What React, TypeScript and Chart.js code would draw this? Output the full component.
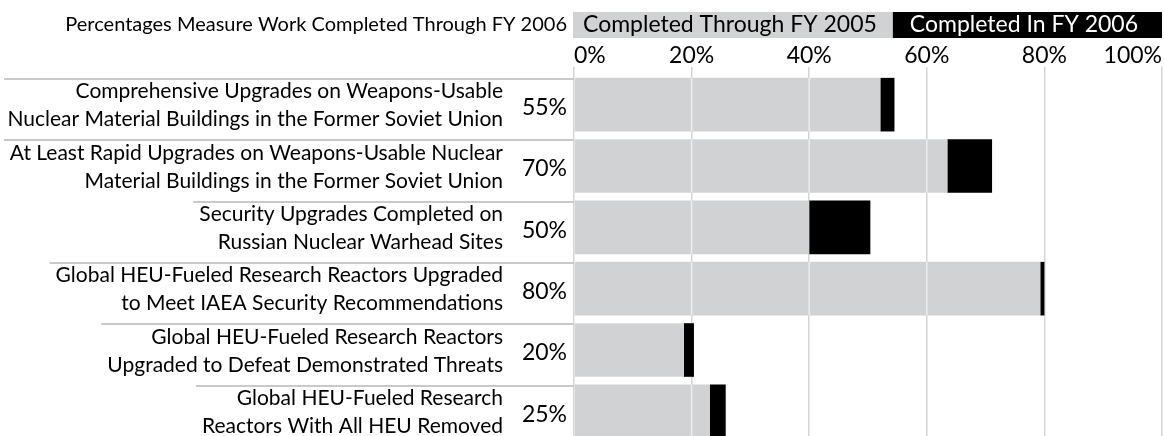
import React, { useEffect, useRef } from "react";
import { Chart, registerables } from "chart.js";

Chart.register(...registerables);

// ---------- data ----------
const categories: string[][] = [
  ["Comprehensive Upgrades on Weapons-Usable", "Nuclear Material Buildings in the Former Soviet Union"],
  ["At Least Rapid Upgrades on Weapons-Usable Nuclear", "Material Buildings in the Former Soviet Union"],
  ["Security Upgrades Completed on", "Russian Nuclear Warhead Sites"],
  ["Global HEU-Fueled Research Reactors Upgraded", "to Meet IAEA Security Recommendations"],
  ["Global HEU-Fueled Research Reactors", "Upgraded to Defeat Demonstrated Threats"],
  ["Global HEU-Fueled Research", "Reactors With All HEU Removed"],
];
const totalLabels = ["55%", "70%", "50%", "80%", "20%", "25%"];
const through2005 = [52.1, 63.5, 40, 79.3, 18.7, 23.1];
const in2006 = [2.4, 7.6, 10.4, 0.7, 1.7, 2.7];
const xTicks = [0, 20, 40, 60, 80, 100];
const seriesNames = ["Completed Through FY 2005", "Completed In FY 2006"];
const titleText = "Percentages Measure Work Completed Through FY 2006";

const FAMILY = "Lato";
const TITLE_FS = 20;
const LABEL_FS = 21;
const BIG_FS = 23;
const GRAY = "#d1d2d4";
const BLACK = "#000000";

const decorPlugin = {
  id: "decor",
  afterDatasetsDraw(chart: any) {
    const ctx = chart.ctx;
    const meta = chart.getDatasetMeta(0);
    const xs = chart.scales.x;
    ctx.save();
    ctx.strokeStyle = "#ededed";
    ctx.lineWidth = 1.5;
    meta.data.forEach((bar: any) => {
      const left = Math.min(bar.base, bar.x);
      const right = Math.max(bar.base, bar.x);
      xTicks.forEach((t) => {
        const px = xs.getPixelForValue(t);
        if (px > left + 1 && px < right - 1) {
          ctx.beginPath();
          ctx.moveTo(px, bar.y - bar.height / 2);
          ctx.lineTo(px, bar.y + bar.height / 2);
          ctx.stroke();
        }
      });
    });
    ctx.restore();
  },
  afterDraw(chart: any) {
    const ctx = chart.ctx;
    const area = chart.chartArea;
    const ys = chart.scales.y;
    const bars = chart.getDatasetMeta(0).data;
    ctx.save();
    ctx.textBaseline = "middle";

    // separators from each label's left edge to the axis, at each bar's top
    ctx.font = `${LABEL_FS}px ${FAMILY}`;
    const labelRight = ys.right - 12;
    ctx.strokeStyle = "#c9c9c9";
    ctx.lineWidth = 2;
    categories.forEach((lines, i) => {
      const w = Math.max(...lines.map((l) => ctx.measureText(l).width));
      const bar = bars[i];
      const yTop = Math.round(bar.y - bar.height / 2) + 1;
      ctx.beginPath();
      ctx.moveTo(Math.max(4, labelRight - w - 6), yTop);
      ctx.lineTo(area.left, yTop);
      ctx.stroke();
    });

    // title
    const ty = 25;
    ctx.font = `${TITLE_FS}px ${FAMILY}`;
    ctx.fillStyle = "#000";
    ctx.textAlign = "right";
    ctx.fillText(titleText, area.left - 7, ty);

    // legend boxes
    ctx.font = `${BIG_FS}px ${FAMILY}`;
    const colors = [GRAY, BLACK];
    const textColors = ["#000", "#fff"];
    let x = area.left - 1;
    const boxTop = 12;
    const boxH = 26;
    ctx.textAlign = "left";
    seriesNames.forEach((name, i) => {
      const w = ctx.measureText(name).width;
      const padL = i === 0 ? 10 : 17;
      const padR = 16;
      const bw = i === 0 ? w + padL + padR : area.right - x;
      ctx.fillStyle = colors[i];
      ctx.fillRect(x, boxTop, bw, boxH);
      ctx.fillStyle = textColors[i];
      ctx.fillText(name, x + padL, ty);
      x += bw;
    });
    ctx.restore();
  },
};

export default function App() {
  const ref = useRef<HTMLCanvasElement | null>(null);

  useEffect(() => {
    let chart: Chart | null = null;
    let cancelled = false;
    const make = () => {
      if (cancelled || !ref.current) return;
      chart = new Chart(ref.current, {
        type: "bar",
        data: {
          labels: categories as any,
          datasets: [
            {
              label: seriesNames[0],
              data: through2005,
              backgroundColor: GRAY,
              barPercentage: 0.874,
              categoryPercentage: 1,
              yAxisID: "y",
            },
            {
              label: seriesNames[1],
              data: in2006,
              backgroundColor: BLACK,
              barPercentage: 0.874,
              categoryPercentage: 1,
              yAxisID: "y",
            },
          ],
        },
        options: {
          indexAxis: "y",
          animation: false,
          responsive: false,
          maintainAspectRatio: false,
          layout: { padding: { top: 36, right: 2, bottom: 0, left: 0 } },
          plugins: { legend: { display: false }, tooltip: { enabled: false } },
          scales: {
            x: {
              type: "linear",
              position: "top",
              stacked: true,
              min: 0,
              max: 100,
              afterBuildTicks: (s: any) => {
                s.ticks = xTicks.map((v) => ({ value: v }));
              },
              afterFit: (s: any) => {
                s.height = 38;
                s.paddingLeft = 0;
                s.paddingRight = 0;
              },
              ticks: {
                align: "inner",
                padding: 0,
                color: "#000",
                font: { family: FAMILY, size: BIG_FS, lineHeight: 1 },
                callback: (v: any) => `${v}%`,
              },
              grid: { color: "#d5d5d5", lineWidth: 1.5, tickLength: 7, drawTicks: true },
              border: { display: false },
            },
            y: {
              type: "category",
              position: "left",
              stacked: true,
              weight: 2,
              offset: true,
              afterFit: (s: any) => {
                s.width = 515;
                s.paddingTop = 0;
                s.paddingBottom = 0;
              },
              ticks: {
                autoSkip: false,
                padding: 12,
                labelOffset: 1,
                color: "#000",
                font: { family: FAMILY, size: LABEL_FS, lineHeight: 1.333 },
              },
              grid: { display: false, drawTicks: false },
              border: { display: false },
            },
            yPct: {
              type: "category",
              position: "left",
              labels: totalLabels,
              weight: 1,
              offset: true,
              afterFit: (s: any) => {
                s.width = 59;
                s.paddingTop = 0;
                s.paddingBottom = 0;
              },
              ticks: {
                autoSkip: false,
                padding: 7,
                labelOffset: 3,
                color: "#000",
                font: { family: FAMILY, size: BIG_FS },
              },
              grid: { display: false, drawTicks: false },
              border: { display: false },
            },
          } as any,
        },
        plugins: [decorPlugin],
      });
    };
    const fonts: any = (document as any).fonts;
    if (fonts && fonts.load) {
      Promise.all([
        fonts.load(`${TITLE_FS}px ${FAMILY}`),
        fonts.load(`${LABEL_FS}px ${FAMILY}`),
        fonts.load(`${BIG_FS}px ${FAMILY}`),
      ]).then(make, make);
    } else {
      make();
    }
    return () => {
      cancelled = true;
      if (chart) chart.destroy();
    };
  }, []);

  return (
    <div
      style={{
        position: "fixed",
        left: 0,
        top: 0,
        width: 1164,
        height: 436,
        overflow: "hidden",
        background: "#fff",
      }}
    >
      <canvas ref={ref} width={1164} height={442} style={{ display: "block", width: 1164, height: 442 }} />
    </div>
  );
}
